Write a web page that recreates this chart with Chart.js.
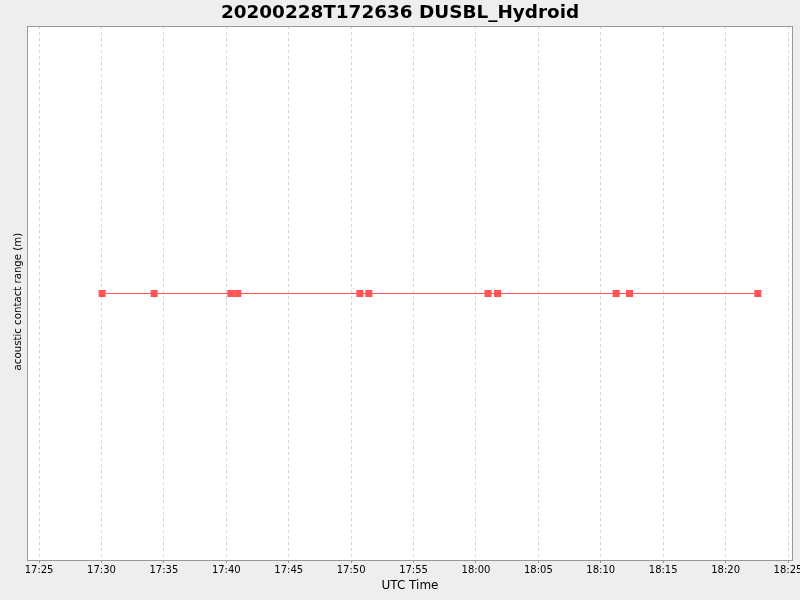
<!DOCTYPE html>
<html>
<head>
<meta charset="utf-8">
<script src="https://cdn.jsdelivr.net/npm/chart.js"></script>
<style>
  html, body { margin: 0; padding: 0; background: #eeeeee; }
  #wrap { width: 800px; height: 600px; }
</style>
</head>
<body>
<div id="wrap"><canvas id="c" width="800" height="600"></canvas></div>
<script>
// contact times (UTC) and ranges
const contactTimes = ['17:30:03', '17:34:13', '17:40:22', '17:40:55', '17:50:42', '17:51:25',
  '18:00:58', '18:01:44', '18:11:14', '18:12:18', '18:22:35'];
const contactRange = [1, 1, 1, 1, 1, 1, 1, 1, 1, 1, 1];
const axisStart = '17:24:02';
const axisEnd = '18:25:24';

const toMin = s => {
  const p = s.split(':').map(Number);
  return p[0] * 60 + p[1] + (p[2] || 0) / 60;
};
const fmt = v => {
  const h = Math.floor(v / 60), m = Math.round(v % 60);
  return String(h).padStart(2, '0') + ':' + String(m).padStart(2, '0');
};

const points = contactTimes.map((t, i) => ({ x: toMin(t), y: contactRange[i] }));

const frame = {
  id: 'frame',
  beforeDraw(chart) {
    const { ctx, chartArea: a } = chart;
    ctx.save();
    ctx.fillStyle = '#eeeeee';
    ctx.fillRect(0, 0, chart.width, chart.height);
    ctx.fillStyle = '#ffffff';
    ctx.fillRect(a.left, a.top, a.right - a.left, a.bottom - a.top);
    ctx.restore();
  },
  beforeDatasetsDraw(chart) {
    const { ctx, chartArea: a } = chart;
    ctx.save();
    ctx.strokeStyle = '#999999';
    ctx.lineWidth = 1;
    ctx.strokeRect(a.left + 0.5, a.top + 0.5, a.right - a.left - 1, a.bottom - a.top - 1);
    ctx.restore();
  }
};

new Chart(document.getElementById('c'), {
  type: 'line',
  data: {
    datasets: [{
      label: 'acoustic contact range',
      data: points,
      borderColor: '#ff5555',
      backgroundColor: '#ff5555',
      borderWidth: 1,
      pointStyle: 'rect',
      pointRadius: 5,
      pointBorderWidth: 0,
      tension: 0
    }]
  },
  options: {
    responsive: false,
    animation: false,
    layout: { padding: 0 },
    plugins: {
      legend: { display: false },
      tooltip: { enabled: false },
      title: {
        display: true,
        text: '20200228T172636 DUSBL_Hydroid',
        color: '#000000',
        font: { family: 'DejaVu Sans', size: 18.4, weight: 'bold' },
        padding: { top: 1.8, bottom: 2.12 }
      }
    },
    scales: {
      x: {
        type: 'linear',
        min: toMin(axisStart),
        max: toMin(axisEnd),
        afterFit(s) { s.height = 39; s.paddingLeft = 0; s.paddingRight = 7; },
        afterBuildTicks(s) {
          const t = [];
          for (let v = Math.ceil(s.min / 5) * 5; v <= s.max; v += 5) t.push({ value: v });
          s.ticks = t;
        },
        border: { display: false, dash: [3, 3] },
        grid: { color: '#d4d4d4', tickLength: 2, tickColor: '#999999', tickBorderDash: [] },
        ticks: {
          color: '#000000',
          font: { family: 'DejaVu Sans', size: 10 },
          padding: 1,
          maxRotation: 0,
          autoSkip: false,
          callback: v => fmt(v)
        },
        title: {
          display: true,
          text: 'UTC Time',
          color: '#000000',
          font: { family: 'DejaVu Sans', size: 12 },
          padding: { top: 2.8, bottom: 7 }
        }
      },
      y: {
        min: 0,
        max: 2,
        afterFit(s) { s.width = 27; },
        border: { display: false },
        grid: { display: false },
        ticks: { display: false },
        title: {
          display: true,
          text: 'acoustic contact range (m)     ',
          color: '#000000',
          font: { family: 'DejaVu Sans', size: 10.2 },
          padding: { top: 11.9, bottom: 0 }
        }
      }
    }
  },
  plugins: [frame]
});
</script>
</body>
</html>
